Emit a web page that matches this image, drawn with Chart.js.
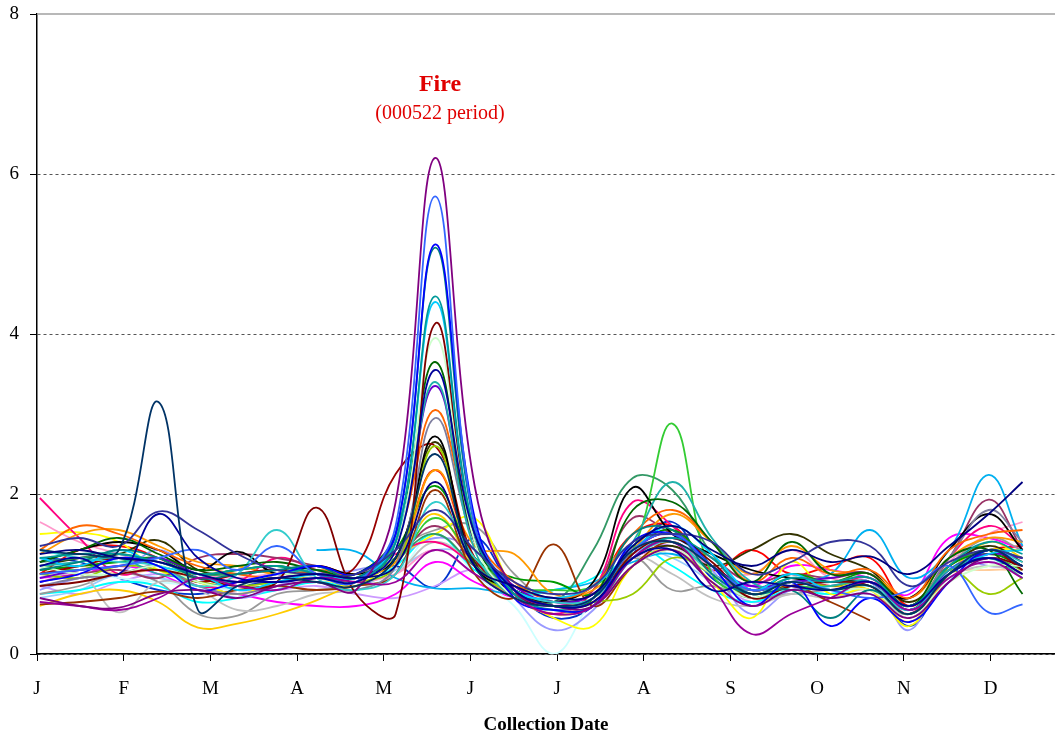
<!DOCTYPE html>
<html>
<head>
<meta charset="utf-8">
<script src="https://cdn.jsdelivr.net/npm/chart.js@4.4.1/dist/chart.umd.min.js"></script>
<style>
  body { margin: 0; background: #fff; }
  #wrap { position: relative; width: 1055px; height: 740px; }
  .note { position: absolute; left: 340px; width: 200px; text-align: center; color: #e00000; font-family: "Liberation Serif", "Times New Roman", serif; }
  #fire { top: 70px; font-size: 24px; font-weight: bold; }
  #period { top: 101px; font-size: 20px; }
</style>
</head>
<body>
<div id="wrap">
  <canvas id="chart"></canvas>
  <div class="note" id="fire">Fire</div>
  <div class="note" id="period">(000522 period)</div>
</div>
<script>
// collection dates (day of year, biweekly)
const sampleDays = [1, 15, 29, 43, 57, 71, 85, 99, 113, 127, 141, 155, 169, 183, 197, 211, 225, 239, 253, 267, 281, 295, 309, 323, 337, 349];
const monthLabels = ["J", "F", "M", "A", "M", "J", "J", "A", "S", "O", "N", "D"];
const DAYS_PER_MONTH = 30.7;

// one array per site
const s01 = [1.25,1.3,1.2,1.15,1.0,0.9,0.95,1.0,0.95,1.1,2.15,1.1,0.85,0.7,0.75,1.35,1.6,1.3,1.1,1.3,1.15,1.22,1.0,1.35,1.75,2.15];
const s02 = [1.3,1.25,1.3,3.15,0.55,0.85,0.95,0.9,0.85,1.2,2.5,1.1,0.7,0.6,0.7,1.3,1.4,1.1,0.75,0.9,0.8,0.85,0.5,1.0,1.3,1.1];
const s03 = [1.35,1.45,1.35,1.78,1.55,1.25,1.05,1.0,1.0,1.3,1.8,1.3,0.9,0.75,0.85,1.4,1.5,1.4,1.0,1.15,1.4,1.35,0.85,1.15,1.3,1.2];
const s04 = [1.1,1.2,1.0,1.75,1.2,0.95,0.9,0.95,0.9,1.3,3.55,1.5,0.8,0.6,0.65,1.2,1.3,0.8,0.9,0.85,0.8,0.9,0.6,1.0,1.2,1.0];
const s05 = [0.7,0.6,0.58,0.75,0.8,0.7,0.85,0.9,0.8,1.9,6.2,2.1,0.8,0.6,0.6,1.1,1.3,0.9,0.6,0.8,0.7,0.75,0.45,0.9,1.2,1.0];
const s06 = [0.65,0.6,0.55,0.7,0.95,0.85,0.8,0.95,0.9,0.9,1.3,1.0,0.7,0.5,0.6,1.2,1.4,0.85,0.25,0.5,0.7,0.9,0.55,0.95,1.15,0.95];
const s07 = [1.0,1.05,1.1,1.2,1.3,1.05,1.35,1.0,0.9,1.6,5.72,1.6,0.8,0.6,0.7,1.3,1.5,1.1,0.8,0.9,0.8,0.7,0.8,1.1,0.52,0.62];
const s08 = [0.9,1.0,1.2,1.1,0.8,0.9,1.0,1.1,1.0,1.5,5.12,1.7,0.7,0.55,0.6,1.4,1.5,1.1,0.6,0.9,0.35,0.7,0.4,0.9,1.3,1.1];
const s09 = [1.05,1.15,1.3,1.2,0.95,1.0,1.05,1.1,0.95,1.5,5.08,1.6,0.8,0.6,0.7,1.5,1.55,1.0,0.75,0.8,0.45,0.8,0.5,1.0,1.2,1.0];
const s10 = [1.2,1.25,1.25,1.15,1.0,1.05,1.1,1.0,0.9,1.4,4.47,1.5,0.75,0.55,0.6,1.2,1.45,1.2,0.75,0.95,0.9,0.95,0.6,1.1,1.4,1.25];
const s11 = [1.2,1.1,1.3,1.1,1.0,0.8,0.9,1.0,0.95,1.4,4.4,1.5,0.8,0.7,0.85,1.3,1.6,1.25,0.8,1.0,0.8,0.9,0.55,1.0,1.25,1.3];
const s12 = [0.85,0.9,1.0,1.05,0.95,0.85,0.9,1.83,0.75,0.5,4.13,1.5,0.75,0.6,0.65,1.25,1.45,1.15,0.7,0.85,0.9,0.85,0.5,1.0,1.2,1.1];
const s13 = [1.1,1.0,1.0,1.1,0.9,0.85,1.0,0.95,0.9,1.3,3.95,1.4,0.7,0.55,0.6,1.1,1.3,1.0,0.7,0.9,0.8,0.8,0.5,0.9,1.1,1.1];
const s14 = [1.15,1.3,1.45,1.25,1.05,1.1,1.15,1.05,1.0,1.5,3.65,1.4,0.8,0.6,0.7,1.8,1.9,1.4,0.9,1.4,1.0,1.0,0.6,1.2,1.3,0.75];
const s15 = [1.3,1.2,1.15,1.1,0.85,1.0,1.55,0.95,0.8,1.0,1.9,1.2,0.8,0.65,0.7,1.2,1.4,1.0,0.7,0.85,0.9,0.85,0.55,1.0,1.3,1.15];
const s16 = [1.1,1.15,1.2,1.0,0.95,0.9,1.0,1.05,0.95,1.4,3.4,1.3,0.7,0.55,0.7,1.4,2.15,1.45,0.9,0.8,0.85,0.9,0.6,1.05,1.2,0.95];
const s17 = [0.95,1.05,1.1,1.2,1.0,0.9,0.95,1.0,0.9,1.4,3.35,1.4,0.85,0.65,0.75,1.3,1.5,1.1,0.85,0.9,0.95,1.0,0.55,1.05,1.25,1.2];
const s18 = [1.3,1.6,1.5,1.3,1.1,1.0,0.95,1.05,1.0,1.4,3.05,1.5,0.9,0.7,0.85,1.5,1.8,1.4,0.9,1.2,1.0,1.05,0.7,1.3,1.5,1.55];
const s19 = [0.85,0.95,1.0,1.1,0.85,0.75,0.85,0.9,0.8,1.1,2.95,1.4,0.8,0.6,0.7,1.3,1.4,1.0,0.8,0.9,0.9,0.95,0.6,1.2,1.8,1.4];
const s20 = [1.15,1.3,1.4,1.3,1.05,1.28,1.0,1.1,1.0,1.2,2.72,1.1,0.8,0.65,0.9,2.08,1.5,1.25,1.05,0.95,0.9,0.9,0.7,1.3,1.75,1.3];
const s21 = [1.0,0.95,1.1,1.05,0.9,0.85,0.9,0.95,0.9,1.1,2.6,1.1,0.75,0.6,0.65,0.75,1.2,1.0,0.7,0.9,0.85,0.9,0.6,1.05,0.75,0.95];
const s22 = [1.0,1.1,1.2,1.1,0.9,1.0,1.05,0.95,1.1,2.25,2.6,1.2,0.8,0.6,0.7,1.3,1.5,1.1,0.8,0.9,0.85,0.9,0.55,1.0,1.3,1.05];
const s23 = [1.25,1.5,1.55,1.35,1.15,1.1,1.0,1.05,1.0,1.15,2.3,1.35,1.25,0.75,0.8,1.3,1.75,1.4,1.0,1.35,1.05,1.0,0.7,1.2,1.45,1.4];
const s24 = [1.05,1.1,1.15,1.2,1.0,1.05,1.1,1.0,0.9,1.3,2.1,1.2,0.95,0.9,0.75,1.3,1.55,1.1,0.8,1.0,0.9,1.0,0.55,1.1,1.25,1.1];
const s25 = [0.62,0.65,0.7,0.78,0.7,0.8,0.85,0.8,0.85,1.0,2.05,1.0,0.7,1.37,0.6,1.1,1.4,1.0,0.75,0.85,0.65,0.42];
const s26 = [1.1,1.05,1.2,1.1,1.0,1.05,1.1,1.0,1.0,1.15,1.7,1.2,0.85,0.8,0.85,1.3,2.88,1.0,0.75,0.85,0.8,0.85,0.5,1.0,1.2,1.05];
const s27 = [1.15,1.2,1.25,1.15,1.0,1.0,1.05,1.0,0.95,1.2,1.5,1.1,0.8,0.65,1.3,2.2,2.05,1.25,0.8,0.95,0.9,0.9,0.6,1.1,1.3,1.2];
const s28 = [1.1,1.2,1.25,1.42,1.05,1.0,1.05,1.0,0.95,1.2,2.65,1.15,0.8,0.65,0.75,1.2,1.35,1.1,1.3,1.5,1.25,1.05,0.65,1.1,1.35,1.15];
const s29 = [null,null,null,null,null,null,null,1.3,1.28,0.95,0.82,0.82,0.75,0.8,0.9,1.15,1.25,1.0,0.8,0.9,1.0,1.55,0.95,1.3,2.24,1.35];
const s30 = [0.9,1.0,1.05,0.95,1.2,1.25,1.2,1.1,1.0,1.2,1.6,1.15,0.8,0.6,0.8,1.7,1.5,1.2,0.9,1.0,0.95,1.0,0.6,1.2,1.93,1.3];
const s31 = [1.95,1.45,1.0,1.1,0.85,0.9,1.2,1.05,0.95,1.25,1.4,1.1,0.75,0.5,0.8,1.9,1.6,1.1,0.8,1.0,0.85,0.95,0.5,1.2,1.6,1.35];
const s32 = [1.65,1.4,1.25,1.1,1.0,0.95,1.0,0.95,0.9,1.0,1.3,1.0,0.7,0.55,0.7,1.3,1.4,1.1,1.0,1.3,0.95,0.9,0.6,1.15,1.5,1.65];
const s33 = [1.5,1.52,1.4,1.05,0.9,0.75,0.9,0.95,0.85,1.2,1.5,1.7,0.8,0.45,0.35,1.1,1.3,0.9,0.45,1.15,0.75,0.8,0.35,1.1,1.3,1.3];
const s34 = [0.6,0.75,0.8,0.65,0.33,0.38,0.5,0.67,0.9,1.2,1.75,1.1,0.7,0.5,0.6,1.1,1.3,1.0,0.7,0.9,0.85,0.8,0.4,1.0,1.4,1.2];
const s35 = [0.9,1.0,0.52,0.9,0.8,0.55,0.6,0.75,0.8,1.0,1.4,1.1,0.7,0.5,0.6,1.2,1.0,0.7,0.6,0.75,0.7,0.8,0.45,0.95,1.1,1.0];
const s36 = [0.75,0.85,1.0,0.9,0.5,0.48,0.75,0.8,0.9,1.3,1.55,1.6,1.0,0.65,0.75,1.2,0.8,0.85,0.7,0.75,0.8,0.8,0.5,1.1,1.45,1.3];
const s37 = [0.8,0.95,1.0,1.3,0.95,0.7,0.85,1.0,1.05,1.2,1.45,1.3,0.7,0.3,0.55,1.2,1.45,1.05,0.5,0.8,0.85,0.9,0.3,1.2,1.1,1.1];
const s38 = [0.75,0.8,0.9,0.85,0.65,0.7,0.8,0.9,0.85,1.1,1.5,1.05,0.75,0.8,0.95,1.35,1.1,0.8,0.65,0.8,0.75,0.85,0.55,1.05,1.3,1.2];
const s39 = [1.0,1.05,0.95,0.9,0.85,0.8,0.85,0.9,0.85,1.0,1.5,1.0,0.6,0.0,0.7,1.2,1.3,0.9,0.7,0.8,0.75,0.8,0.5,1.0,1.2,1.1];
const s40 = [0.95,1.0,1.1,1.0,0.8,0.75,0.65,0.6,0.6,0.75,1.15,0.9,0.7,0.6,0.75,1.2,1.3,1.0,0.85,1.1,1.05,0.95,0.75,1.45,1.45,1.3];
const s41 = [1.0,1.3,1.35,1.2,0.95,0.9,1.0,1.1,1.0,1.2,2.3,1.2,0.85,0.7,0.85,1.5,1.6,1.05,1.3,1.0,1.1,1.2,0.6,1.1,1.3,1.35];
const s42 = [1.0,1.1,1.0,1.05,0.95,0.9,0.95,0.9,0.95,1.1,2.3,1.1,0.75,0.6,0.7,1.2,1.3,1.0,0.75,0.9,0.8,0.85,0.55,1.0,1.05,1.05];
const s43 = [0.7,0.8,1.0,0.95,0.85,0.8,0.85,0.9,0.85,1.05,1.3,1.2,0.7,0.55,0.7,1.3,1.2,0.9,0.6,0.8,0.7,0.75,0.5,1.0,1.15,1.0];
const s44 = [0.85,0.75,0.9,1.0,0.9,0.8,0.8,0.85,0.75,0.7,0.85,1.05,0.75,0.6,0.7,1.25,1.35,1.0,0.65,0.8,0.75,0.85,0.5,1.05,1.25,1.1];
const s45 = [1.2,1.15,0.95,0.8,0.75,0.85,0.9,0.95,0.95,1.1,0.84,1.45,0.8,0.45,0.6,1.25,1.65,0.95,0.8,0.9,0.85,0.9,0.35,1.0,1.25,1.1];

const seriesList = [s01,s02,s03,s04,s05,s06,s07,s08,s09,s10,s11,s12,s13,s14,s15,s16,s17,s18,s19,s20,s21,s22,s23,s24,s25,s26,s27,s28,s29,s30,s31,s32,s33,s34,s35,s36,s37,s38,s39,s40,s41,s42,s43,s44,s45];

const lineColors = [
  '#000080','#003366','#333399','#000099','#800080','#990099','#3366FF','#0000FF','#008080','#009999',
  '#00CCFF','#800000','#CCFFCC','#006600','#33CCCC','#20B2AA','#6600CC','#FF6600','#7F7F9F','#000000',
  '#99CC00','#990000','#FF9900','#009900','#993300','#33CC33','#339966','#333300','#00B0F0','#993366',
  '#FF0080','#FF99CC','#FFFF00','#FFCC00','#C0C0C0','#999999','#9999FF','#00FFFF','#CCFFFF','#FF00FF',
  '#FF0000','#FFCC99','#99CCFF','#CC99FF','#0033CC'
];

const datasets = seriesList.map((vals, i) => ({
  data: vals.map((v, j) => ({ x: sampleDays[j], y: v })),
  borderColor: lineColors[i],
  borderWidth: 1.8,
  pointRadius: 0,
  tension: 0.4,
  fill: false
}));

const serif = '"Liberation Serif", "Times New Roman", serif';

// solid line along the top of the plot area
const topFrame = {
  id: 'topFrame',
  afterDraw(chart) {
    const { ctx, chartArea } = chart;
    ctx.save();
    ctx.strokeStyle = '#a0a0a0';
    ctx.lineWidth = 1.5;
    ctx.beginPath();
    ctx.moveTo(chartArea.left, chartArea.top);
    ctx.lineTo(chartArea.right, chartArea.top);
    ctx.stroke();
    ctx.restore();
  }
};

new Chart(document.getElementById('chart'), {
  type: 'line',
  data: { datasets: datasets },
  plugins: [topFrame],
  options: {
    responsive: true,
    maintainAspectRatio: false,
    animation: false,
    layout: { padding: 0 },
    plugins: { legend: { display: false }, tooltip: { enabled: false } },
    scales: {
      x: {
        type: 'linear',
        min: 0,
        max: 360.5,
        afterFit: (scale) => { scale.height = 86; },
        afterBuildTicks: (scale) => {
          scale.ticks = monthLabels.map((m, i) => ({ value: i * DAYS_PER_MONTH }));
        },
        ticks: {
          autoSkip: false,
          maxRotation: 0,
          padding: 17,
          color: '#000',
          font: { family: serif, size: 19 },
          callback: (val, idx) => monthLabels[idx]
        },
        grid: { drawOnChartArea: false, tickLength: 7, color: '#000' },
        border: { color: '#000', width: 1.5 },
        title: {
          display: true,
          text: 'Collection Date',
          color: '#000',
          font: { family: serif, size: 19, weight: 'bold' },
          padding: { top: 8 }
        }
      },
      y: {
        min: 0,
        max: 8,
        afterFit: (scale) => {
          scale.width = 37;
          scale.paddingTop = 14;
          scale.paddingBottom = 0;
        },
        ticks: {
          stepSize: 2,
          padding: 11,
          color: '#000',
          font: { family: serif, size: 19 }
        },
        grid: {
          color: (ctx) => (ctx.tick && ctx.tick.value === 8 ? 'rgba(0,0,0,0)' : '#555'),
          tickColor: '#000',
          tickLength: 7
        },
        border: { color: '#000', width: 1.5, dash: [3, 3] }
      }
    }
  }
});
</script>
</body>
</html>
